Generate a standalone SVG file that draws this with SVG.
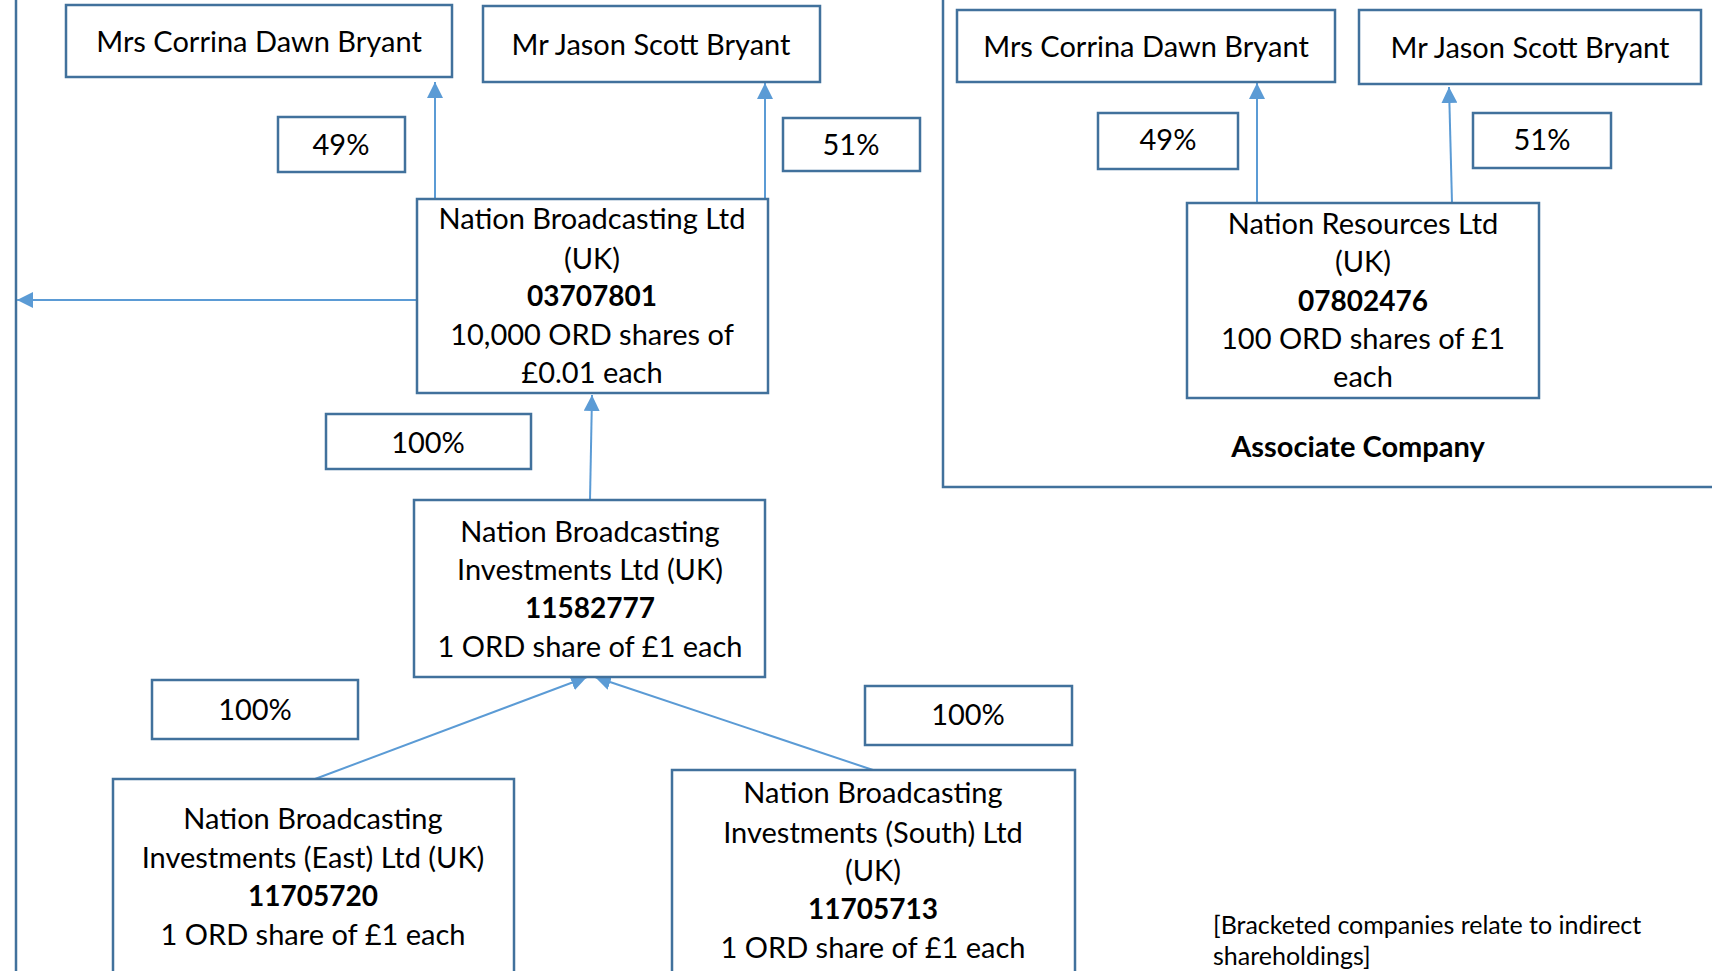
<svg xmlns="http://www.w3.org/2000/svg" width="1712" height="971" viewBox="0 0 1712 971">
<defs>
<style>
.box{fill:#fff;stroke:#41719C;stroke-width:2.5}
.frame{fill:none;stroke:#41719C;stroke-width:2.5}
.con{fill:none;stroke:#5B9BD5;stroke-width:2;marker-end:url(#ah)}
text{font-family:Lato,"Liberation Sans",sans-serif;font-size:29px;fill:#000;text-anchor:middle}
.b{font-weight:bold}
.num{font-size:28px}
.note{font-size:25px;text-anchor:start}
</style>
<marker id="ah" viewBox="0 0 10 10" refX="10" refY="5" markerWidth="8" markerHeight="8" orient="auto">
<path d="M0,0 L10,5 L0,10 z" fill="#5B9BD5"/>
</marker>
</defs>
<rect width="1712" height="971" fill="#fff"/>
<g id="frames">
<path class="frame" d="M16,0 V971"/>
<path class="frame" d="M943,0 V487 H1712"/>
</g>
<g id="connectors">
<path class="con" d="M435,202 V82"/>
<path class="con" d="M765,203 V83"/>
<path class="con" d="M420,300 H17"/>
<path class="con" d="M590,500 L592,395"/>
<path class="con" d="M315,779 L587,677"/>
<path class="con" d="M873,770 L595,677"/>
<path class="con" d="M1257,203 V83"/>
<path class="con" d="M1452,203 L1449,87"/>
</g>
<g id="corrina-left"><rect class="box" x="66" y="5" width="386" height="72"/><text x="259" y="52">Mrs Corrina Dawn Bryant</text></g>
<g id="jason-left"><rect class="box" x="483" y="6" width="337" height="76"/><text x="651" y="55">Mr Jason Scott Bryant</text></g>
<g id="pct49-left"><rect class="box" x="278" y="117" width="127" height="55"/><text x="341" y="155">49%</text></g>
<g id="pct51-left"><rect class="box" x="783" y="118" width="137" height="53"/><text x="851" y="155">51%</text></g>
<g id="nbl"><rect class="box" x="417" y="199" width="351" height="194"/>
<text x="592" y="229">Nation Broadcasting Ltd</text>
<text x="592" y="269">(UK)</text>
<text x="592" y="306" class="b num">03707801</text>
<text x="592" y="345">10,000 ORD shares of</text>
<text x="592" y="383">£0.01 each</text></g>
<g id="pct100-top"><rect class="box" x="326" y="414" width="205" height="55"/><text x="428" y="453">100%</text></g>
<g id="nbil"><rect class="box" x="414" y="500" width="351" height="177"/>
<text x="590" y="542">Nation Broadcasting</text>
<text x="590" y="580">Investments Ltd (UK)</text>
<text x="590" y="618" class="b num">11582777</text>
<text x="590" y="657">1 ORD share of £1 each</text></g>
<g id="pct100-left"><rect class="box" x="152" y="680" width="206" height="59"/><text x="255" y="720">100%</text></g>
<g id="pct100-right"><rect class="box" x="865" y="686" width="207" height="59"/><text x="968" y="725">100%</text></g>
<g id="nbie"><rect class="box" x="113" y="779" width="401" height="200"/>
<text x="313" y="829">Nation Broadcasting</text>
<text x="313" y="868">Investments (East) Ltd (UK)</text>
<text x="313" y="906" class="b num">11705720</text>
<text x="313" y="945">1 ORD share of £1 each</text></g>
<g id="nbis"><rect class="box" x="672" y="770" width="403" height="210"/>
<text x="873" y="803">Nation Broadcasting</text>
<text x="873" y="843">Investments (South) Ltd</text>
<text x="873" y="881">(UK)</text>
<text x="873" y="919" class="b num">11705713</text>
<text x="873" y="958">1 ORD share of £1 each</text></g>
<g id="corrina-right"><rect class="box" x="957" y="10" width="378" height="72"/><text x="1146" y="57">Mrs Corrina Dawn Bryant</text></g>
<g id="jason-right"><rect class="box" x="1359" y="10" width="342" height="74"/><text x="1530" y="58">Mr Jason Scott Bryant</text></g>
<g id="pct49-right"><rect class="box" x="1098" y="113" width="140" height="56"/><text x="1168" y="150">49%</text></g>
<g id="pct51-right"><rect class="box" x="1473" y="113" width="138" height="55"/><text x="1542" y="150">51%</text></g>
<g id="nrl"><rect class="box" x="1187" y="203" width="352" height="195"/>
<text x="1363" y="234">Nation Resources Ltd</text>
<text x="1363" y="272">(UK)</text>
<text x="1363" y="311" class="b num">07802476</text>
<text x="1363" y="349">100 ORD shares of £1</text>
<text x="1363" y="387">each</text></g>
<g id="associate-label"><text x="1358" y="457" class="b">Associate Company</text></g>
<g id="footnote"><text class="note" x="1213" y="934">[Bracketed companies relate to indirect</text><text class="note" x="1213" y="965">shareholdings]</text></g>
</svg>
